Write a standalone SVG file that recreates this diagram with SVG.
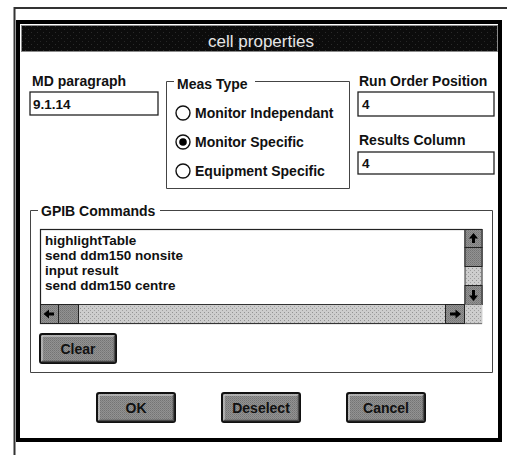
<svg xmlns="http://www.w3.org/2000/svg" width="507" height="455" viewBox="0 0 507 455">
<defs>
<pattern id="dither" width="2" height="2" patternUnits="userSpaceOnUse">
<rect width="2" height="2" fill="#929292"/><rect width="1" height="1" fill="#747474"/><rect x="1" y="1" width="1" height="1" fill="#808080"/>
</pattern>
<pattern id="track" width="4" height="4" patternUnits="userSpaceOnUse">
<rect width="4" height="4" fill="#cdcdcd"/><rect width="1" height="1" fill="#929292"/><rect x="2" y="2" width="1" height="1" fill="#a0a0a0"/>
</pattern>
<pattern id="titlep" width="6" height="6" patternUnits="userSpaceOnUse">
<rect width="6" height="6" fill="#0c0c0c"/><rect x="1" y="2" width="1" height="1" fill="#2a2a2a"/><rect x="4" y="5" width="1" height="1" fill="#262626"/>
</pattern>
</defs>
<style>
.lbl{font-family:"Liberation Sans",Arial,sans-serif;font-weight:bold;font-size:14px;fill:#111}
.itm{font-family:"Liberation Sans",Arial,sans-serif;font-weight:bold;font-size:13.5px;fill:#111}
.btxt{font-family:"Liberation Sans",Arial,sans-serif;font-weight:bold;font-size:14px;fill:#111;text-anchor:middle}
.box{fill:#fff;stroke:#222;stroke-width:1.3}
.grp{fill:none;stroke:#444;stroke-width:1}
.radio{fill:#fff;stroke:#111;stroke-width:1.4}
.btn{fill:url(#dither);stroke:#111;stroke-width:2}
.hl{stroke:#d8d8d8;stroke-width:1;fill:none}
.sh{stroke:#4a4a4a;stroke-width:1.5;fill:none}
.sbtn{fill:url(#dither);stroke:#222;stroke-width:1}
.arr{fill:#000}
</style>
<rect width="507" height="455" fill="#fff"/>
<g id="page-border">
<line x1="14" y1="8" x2="507" y2="8" stroke="#333" stroke-width="2"/>
<line x1="14.5" y1="7" x2="14.5" y2="455" stroke="#333" stroke-width="2"/>
</g>
<g id="dialog">
<rect x="18" y="22" width="482" height="418" fill="#fff" stroke="#000" stroke-width="4"/>
<rect x="21.5" y="25.5" width="476" height="26" fill="url(#titlep)" stroke="#8a8a8a" stroke-width="1"/>
<text x="261" y="47" text-anchor="middle" font-family="'Liberation Sans',Arial,sans-serif" font-size="17" fill="#e6e6e6">cell properties</text>
</g>
<g id="md-paragraph">
<text class="lbl" x="32" y="86">MD paragraph</text>
<rect class="box" x="30" y="92" width="128" height="23"/>
<text class="itm" x="33" y="109">9.1.14</text>
</g>
<g id="meas-type">
<path class="grp" d="M174,81.5 H166.5 V188.5 H349.5 V81.5 H255"/>
<text class="lbl" x="177" y="89">Meas Type</text>
<circle class="radio" cx="183" cy="113" r="7"/>
<text class="lbl" x="195" y="118">Monitor Independant</text>
<circle class="radio" cx="183" cy="142" r="7"/>
<circle cx="183" cy="142" r="3.8" fill="#000"/>
<text class="lbl" x="195" y="147">Monitor Specific</text>
<circle class="radio" cx="183" cy="171" r="7"/>
<text class="lbl" x="195" y="176">Equipment Specific</text>
</g>
<g id="run-order">
<text class="lbl" x="359" y="86">Run Order Position</text>
<rect class="box" x="358" y="92" width="136" height="24"/>
<text class="itm" x="362" y="109">4</text>
</g>
<g id="results-column">
<text class="lbl" x="359" y="145">Results Column</text>
<rect class="box" x="358" y="152" width="136" height="22"/>
<text class="itm" x="362" y="168">4</text>
</g>
<g id="gpib">
<path class="grp" d="M38,210.5 H30.5 V372.5 H492.5 V210.5 H160"/>
<text class="lbl" x="41" y="216">GPIB Commands</text>
<rect x="40.5" y="229.5" width="441" height="94" fill="#fff" stroke="#222" stroke-width="1.2"/>
<text class="itm" x="45" y="245">highlightTable</text>
<text class="itm" x="45" y="260">send ddm150 nonsite</text>
<text class="itm" x="45" y="275">input result</text>
<text class="itm" x="45" y="290">send ddm150 centre</text>
</g>
<g id="vscroll">
<rect x="465" y="229.5" width="17" height="75" fill="url(#track)" stroke="#333" stroke-width="1"/>
<rect class="sbtn" x="465" y="229.5" width="17" height="18"/>
<path class="arr" d="M473.5,233 L469,238.5 H472 V243 H475 V238.5 H478 Z"/>
<rect class="sbtn" x="465" y="247.5" width="17" height="19"/>
<rect class="sbtn" x="465" y="285.5" width="17" height="19"/>
<path class="arr" d="M473.5,301 L469,295.5 H472 V290 H475 V295.5 H478 Z"/>
</g>
<g id="hscroll">
<rect x="40.5" y="304.5" width="424" height="19" fill="url(#track)" stroke="#333" stroke-width="1"/>
<rect class="sbtn" x="40.5" y="304.5" width="18" height="19"/>
<path class="arr" d="M43.5,314 L49,309.5 V312.5 H54 V315.5 H49 V318.5 Z"/>
<rect class="sbtn" x="58.5" y="304.5" width="20" height="19"/>
<rect class="sbtn" x="445.5" y="304.5" width="19" height="19"/>
<path class="arr" d="M461,314 L455.5,309.5 V312.5 H450 V315.5 H455.5 V318.5 Z"/>
<rect x="465" y="304.5" width="17" height="19" fill="url(#track)"/>
</g>
<g id="btn-clear">
<rect class="btn" x="40" y="334" width="76" height="29" rx="2"/>
<path class="hl" d="M42,361 V336 H114"/>
<path class="sh" d="M42,361.5 H114.5 V336"/>
<text class="btxt" x="78" y="354">Clear</text>
</g>
<g id="btn-ok">
<rect class="btn" x="97" y="393" width="78" height="29" rx="2"/>
<path class="hl" d="M99,420 V395 H173"/>
<path class="sh" d="M99,420.5 H173.5 V395"/>
<text class="btxt" x="136" y="413">OK</text>
</g>
<g id="btn-deselect">
<rect class="btn" x="222" y="393" width="78" height="29" rx="2"/>
<path class="hl" d="M224,420 V395 H298"/>
<path class="sh" d="M224,420.5 H298.5 V395"/>
<text class="btxt" x="261" y="413">Deselect</text>
</g>
<g id="btn-cancel">
<rect class="btn" x="347" y="393" width="78" height="29" rx="2"/>
<path class="hl" d="M349,420 V395 H423"/>
<path class="sh" d="M349,420.5 H423.5 V395"/>
<text class="btxt" x="386" y="413">Cancel</text>
</g>
</svg>
